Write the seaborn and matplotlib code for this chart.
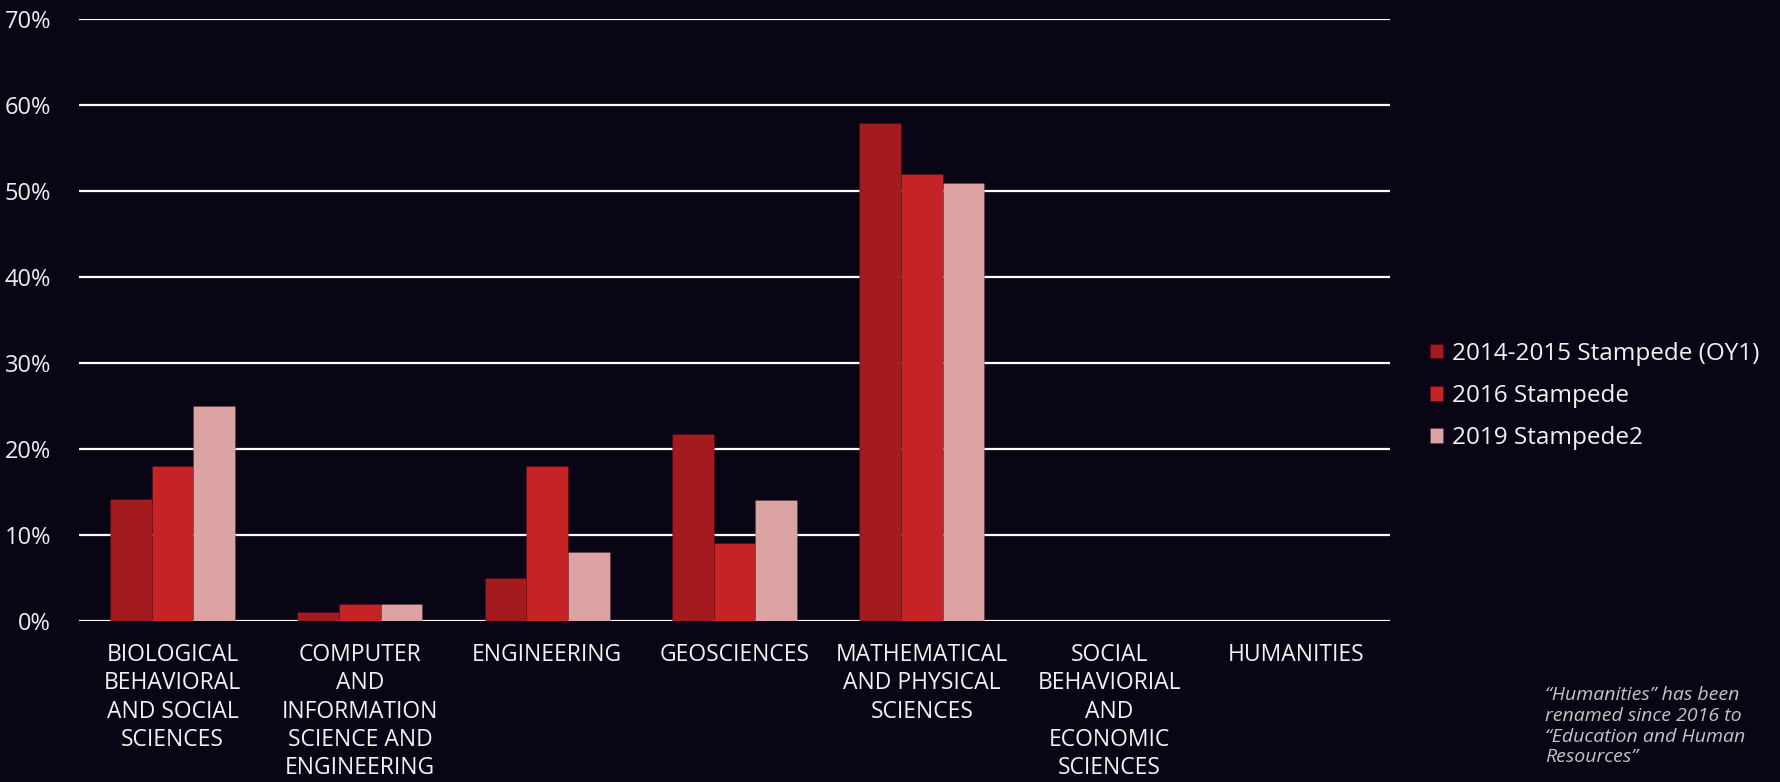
import matplotlib
matplotlib.use("Agg")
import matplotlib.pyplot as plt
import seaborn as sns
import pandas as pd
from matplotlib.ticker import FuncFormatter

# Share of allocation by field of science, per system generation
fields = [
    "BIOLOGICAL\nBEHAVIORAL\nAND SOCIAL\nSCIENCES",
    "COMPUTER\nAND\nINFORMATION\nSCIENCE AND\nENGINEERING",
    "ENGINEERING",
    "GEOSCIENCES",
    "MATHEMATICAL\nAND PHYSICAL\nSCIENCES",
    "SOCIAL\nBEHAVIORIAL\nAND\nECONOMIC\nSCIENCES",
    "HUMANITIES",
]
systems = ["2014-2015 Stampede (OY1)", "2016 Stampede", "2019 Stampede2"]
stampede_oy1 = [14.2, 1.0, 5.0, 21.7, 58.0, 0.0, 0.0]
stampede_2016 = [18.0, 2.0, 18.0, 9.0, 52.0, 0.0, 0.0]
stampede2_2019 = [25.0, 2.0, 8.0, 14.0, 51.0, 0.0, 0.0]
y_ticks = [0, 10, 20, 30, 40, 50, 60, 70]
note = "\u201cHumanities\u201d has been\nrenamed since 2016 to\n\u201cEducation and Human\nResources\u201d"

colors = ["#A31B1F", "#C62326", "#DCA3A3"]
bg = "#0a0515"

df = pd.DataFrame({
    "field": fields * 3,
    "share": stampede_oy1 + stampede_2016 + stampede2_2019,
    "system": [systems[0]] * 7 + [systems[1]] * 7 + [systems[2]] * 7,
})

sns.set_theme(style="white")
plt.rcParams["font.family"] = ["Open Sans", "DejaVu Sans"]

W, H = 1781, 782
fig = plt.figure(figsize=(W / 100, H / 100), dpi=100, facecolor=bg)
ax = fig.add_axes([79 / W, 1 - 620.7 / H, (1390 - 79) / W, (620.7 - 19.5) / H])
ax.set_facecolor(bg)

sns.barplot(
    data=df, x="field", y="share", hue="system", order=fields, hue_order=systems,
    palette=colors, saturation=1, width=0.667, gap=0, ax=ax, errorbar=None,
    edgecolor="#00000030", linewidth=0.6, zorder=3,
)

ax.set_ylim(0, 70)
ax.set_xlim(-0.5, len(fields) - 0.5)
ax.set_yticks(y_ticks)
ax.yaxis.set_major_formatter(FuncFormatter(lambda v, _: f"{v:.0f}%"))
ax.grid(axis="y", color="white", linewidth=1.6, zorder=0)
ax.grid(axis="x", visible=False)
for s in ax.spines.values():
    s.set_visible(False)
ax.set_xlabel("")
ax.set_ylabel("")
ax.tick_params(axis="y", length=0, pad=20, labelsize=17, labelcolor="#eeeeee")
ax.tick_params(axis="x", length=0, pad=16, labelsize=16.5, labelcolor="#f2f2f2")
for lab in ax.get_xticklabels():
    lab.set_linespacing(1.24)
    lab.set_horizontalalignment("center")

ax.legend(
    loc="center left", bbox_to_anchor=(1408 / W, 1 - 396 / H),
    bbox_transform=fig.transFigure, frameon=False, fontsize=17.5,
    labelcolor="#f2f2f2", handlelength=0.55, handleheight=0.55,
    handletextpad=0.35, labelspacing=0.75,
)

fig.text(1545 / W, 1 - 686 / H, note, ha="left", va="top", fontsize=14,
         style="italic", color="#c4c4c4", linespacing=1.2)

fig.savefig("out.png", dpi=100, facecolor=bg)
